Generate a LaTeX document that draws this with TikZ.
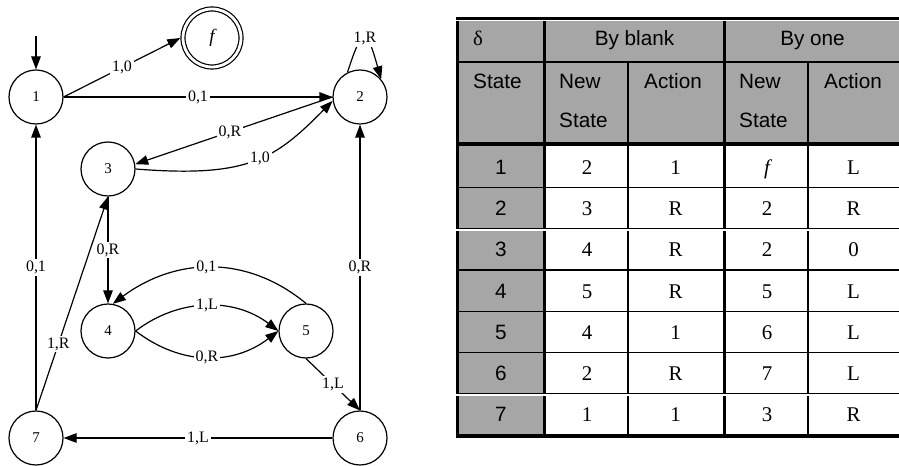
\documentclass[tikz,border=0pt]{standalone}
\usepackage{fontspec}
\setmainfont{Liberation Serif}
\newfontfamily\tabsans{Liberation Sans}
\usetikzlibrary{arrows.meta}
\definecolor{cellgray}{RGB}{166,166,166}
\begin{document}
\begin{tikzpicture}[x=1bp,y=-1bp,
  stnode/.style={circle, draw, line width=1.2bp, minimum size=54bp, inner sep=0pt, font=\fontsize{15}{15}\selectfont},
  finalnode/.style={circle, draw, line width=1.2bp, minimum size=58bp, inner sep=0pt, double, double distance=2.8bp, outer sep=2.6bp, font=\fontsize{19}{19}\selectfont\itshape},
  edge/.style={line width=1.2bp, -{Triangle[length=13bp,width=9.5bp]}},
  elabel/.style={fill=white, inner sep=1.8bp, font=\fontsize{16}{16}\selectfont},
  thinrule/.style={line width=1.2bp},
  thickrule/.style={line width=3.5bp},
  gaprule/.style={white, line width=1.3bp},
  headtext/.style={anchor=base west, inner sep=0pt, font=\tabsans\fontsize{20.8}{20.8}\selectfont},
  headmid/.style={anchor=base, inner sep=0pt, font=\tabsans\fontsize{20.8}{20.8}\selectfont},
  celltext/.style={anchor=base, inner sep=0pt, font=\fontsize{21}{21}\selectfont},
  statetext/.style={anchor=base, inner sep=0pt, font=\tabsans\fontsize{20.8}{20.8}\selectfont}
]
\useasboundingbox (0,0) rectangle (899,466);

% ---------------- state diagram ----------------
\node[stnode] (n1) at (36,97) {1};
\node[finalnode] (nf) at (212,38) {f};
\node[stnode] (n2) at (360,97) {2};
\node[stnode] (n3) at (108,169) {3};
\node[stnode] (n4) at (108,331) {4};
\node[stnode] (n5) at (306,331) {5};
\node[stnode] (n6) at (360,438) {6};
\node[stnode] (n7) at (36,438) {7};
\coordinate (init) at (36,36);

\draw[edge] (init) -- (n1.north);
\draw[edge] (n1.east) -- node[elabel] (l1f) {1,0} (nf.west);
\draw[edge] (n1.east) -- node[elabel] (l12) {0,1} (n2.west);
\draw[edge] (n2.117) .. controls (363.4,22.7) and (367,29.5) .. node[elabel] (l22) {1,R} (n2.40);
\draw[edge] (n2.west) -- node[elabel, pos=0.52] (l23) {0,R} (n3.10);
\draw[edge] (n3.east) .. controls (249,178) and (275,159) .. node[elabel, pos=0.53] (l32) {1,0} (n2.188);
\draw[edge] (n3.south) -- node[elabel] (l34) {0,R} (n4.north);
\draw[edge] (n5.north) .. controls (246,254) and (175,257.6) .. node[elabel, pos=0.52] (l54) {0,1} (n4.80);
\draw[edge] (n4.east) .. controls (179.5,297.6) and (234.5,297.6) .. node[elabel] (l45a) {1,L} (n5.west);
\draw[edge] (n4.east) .. controls (181,365.7) and (233,365.7) .. node[elabel] (l45b) {0,R} (n5.west);
\draw[edge] (n5.south) -- node[elabel] (l56) {1,L} (n6.north);
\draw[edge] (n6.north) -- node[elabel] (l62) {0,R} (n2.south);
\draw[edge] (n6.west) -- node[elabel] (l67) {1,L} (n7.east);
\draw[edge] (n7.north) -- node[elabel] (l71) {0,1} (n1.south);
\draw[edge] (n7.north) -- node[elabel, pos=0.31] (l73) {1,R} (n3.south);

% ---------------- transition table ----------------
\fill[cellgray] (459,21.5) rectangle (899,144);
\fill[cellgray] (459,144) rectangle (543,434);

\draw[thinrule] (459,62) -- (899,62);
\foreach \yy in {187.3,228.5,270,311.7,352.3,393.5}
  \draw[thinrule] (459,\yy) -- (899,\yy);
\draw[thinrule] (628,62) -- (628,434);
\draw[thinrule] (808,62) -- (808,434);

\draw[thickrule] (456,18.3) -- (899,18.3);
\draw[thickrule] (457.5,21.5) -- (457.5,437.8);
\draw[thickrule] (456,436) -- (899,436);
\draw[thickrule] (544.5,21.5) -- (544.5,434);
\draw[thickrule] (724.5,21.5) -- (724.5,434);
\draw[thickrule] (459,144.2) -- (899,144.2);

\draw[gaprule] (455,230) -- (899,230);
\draw[gaprule] (455,395) -- (899,395);

\node[anchor=base west, inner sep=0pt, font=\fontsize{20.8}{20.8}\selectfont] (hd) at (473,46) {δ};
\node[headmid] (hb) at (634.5,46) {By blank};
\node[headmid] (ho) at (812.5,46) {By one};
\node[headtext] (hs) at (473,89) {State};
\node[headtext] (hn1) at (559,89) {New};
\node[headtext] (hs1) at (559,128) {State};
\node[headtext] (ha1) at (644,89) {Action};
\node[headtext] (hn2) at (739,89) {New};
\node[headtext] (hs2) at (739,128) {State};
\node[headtext] (ha2) at (824,89) {Action};

\foreach \r/\yy/\ca/\cb/\cc/\cd in {1/174.1/2/1/{\itshape f}/L, 2/215.4/3/R/2/R, 3/256.7/4/R/2/0, 4/298.3/5/R/5/L, 5/339.5/4/1/6/L, 6/380.4/2/R/7/L, 7/421.2/1/1/3/R}{
  \node[statetext] (s\r) at (501,\yy) {\r};
  \node[celltext] (a\r) at (587,\yy) {\ca};
  \node[celltext] (b\r) at (675.5,\yy) {\cb};
  \node[celltext] (c\r) at (767,\yy) {\cc};
  \node[celltext] (d\r) at (853.5,\yy) {\cd};
}
\end{tikzpicture}
\end{document}
